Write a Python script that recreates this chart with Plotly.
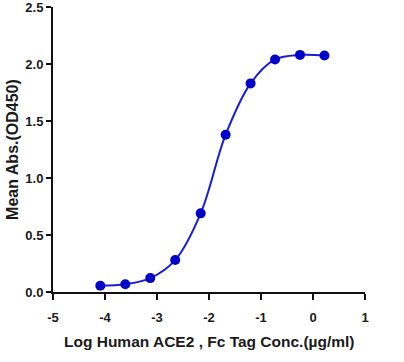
import plotly.graph_objects as go

log_conc = [-4.09, -3.61, -3.13, -2.65, -2.16, -1.68, -1.20, -0.73, -0.25, 0.22]
mean_abs = [0.055, 0.068, 0.122, 0.280, 0.690, 1.380, 1.830, 2.040, 2.080, 2.075]
x_ticks = [-5, -4, -3, -2, -1, 0, 1]
y_ticks = [0.0, 0.5, 1.0, 1.5, 2.0, 2.5]
x_title = "Log Human ACE2 , Fc Tag Conc.(µg/ml)"
y_title = "Mean Abs.(OD450)"

FONT = "Liberation Sans, Arial, sans-serif"
TXT = "#1a1a1a"

fig = go.Figure()
fig.add_trace(go.Scatter(
    x=log_conc, y=mean_abs, mode="lines+markers",
    line=dict(color="#1a1ad8", width=2, shape="spline", smoothing=1.0),
    marker=dict(color="#0000c8", size=10, symbol="circle"),
    cliponaxis=False, showlegend=False,
))

fig.update_layout(
    width=404, height=362,
    margin=dict(l=53, r=39, t=7, b=70),
    paper_bgcolor="white", plot_bgcolor="white",
    font=dict(family=FONT, color=TXT),
)
fig.update_xaxes(
    range=[-5, 1], tickvals=x_ticks, ticktext=[str(v) for v in x_ticks],
    showgrid=False, zeroline=False, showline=True, linecolor="#111111", linewidth=2,
    ticks="outside", ticklen=6, tickwidth=2, tickcolor="#111111", automargin=False,
    ticklabeloverflow="allow", ticklabelstandoff=6,
    tickfont=dict(family=FONT, size=13, color=TXT, weight="bold"),
)
fig.update_yaxes(
    range=[0, 2.5], tickvals=y_ticks, ticktext=[f"{v:.1f}" for v in y_ticks],
    showgrid=False, zeroline=False, showline=True, linecolor="#111111", linewidth=2,
    ticks="outside", ticklen=5, tickwidth=2, tickcolor="#111111", automargin=False,
    ticklabeloverflow="allow",
    tickfont=dict(family=FONT, size=13, color=TXT, weight="bold"),
)
fig.add_annotation(
    text=x_title, xref="paper", yref="paper", x=0.5, y=-0.175,
    xanchor="center", yanchor="middle", showarrow=False,
    font=dict(family=FONT, size=15.5, color=TXT, weight="bold"),
)
fig.add_annotation(
    text=y_title, xref="paper", yref="paper", x=-0.13, y=0.5, textangle=-90,
    xanchor="center", yanchor="middle", showarrow=False,
    font=dict(family=FONT, size=16, color=TXT, weight="bold"),
)

fig.write_html("out.html", config={"displayModeBar": False},
               post_script="document.body.style.margin='0';")
